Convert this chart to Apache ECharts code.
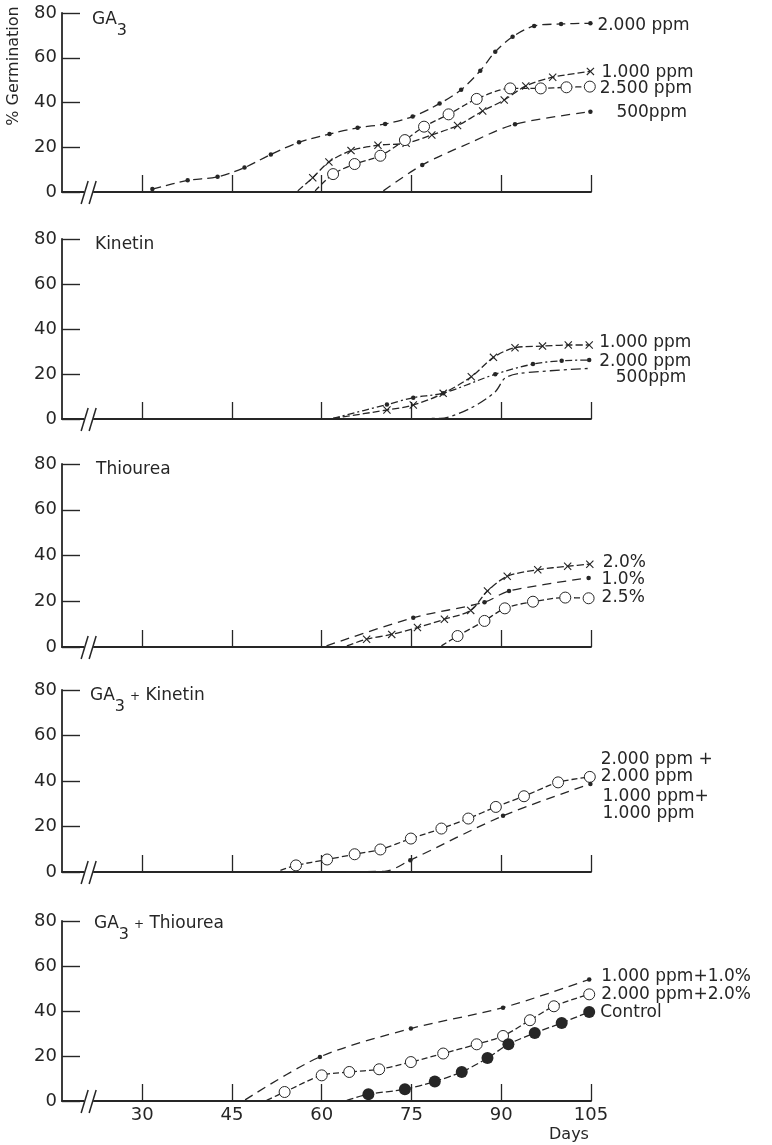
<!DOCTYPE html>
<html><head><meta charset="utf-8">
<script src="https://cdn.jsdelivr.net/npm/echarts@6/dist/echarts.min.js"></script>
<style>html,body{margin:0;padding:0;background:#fff}#c{width:772px;height:1145px}</style>
</head><body><div id="c"></div>
<script>
// ---- tick labels ----
const xTicks = [30, 45, 60, 75, 90, 105];
const yTicks = [0, 20, 40, 60, 80];
const panelTitles = ['GA3', 'Kinetin', 'Thiourea', 'GA3 + Kinetin', 'GA3 + Thiourea'];

// ---- data: [day, % germination] ----
// GA3
const ga3_2000 = [[31.7,1.3],[37.6,5.2],[42.6,6.8],[47.1,10.9],[51.5,16.8],[56.2,22.2],[61.3,25.9],[66.0,28.7],[70.6,30.4],[75.2,33.7],[79.7,39.5],[83.3,45.7],[86.5,54.2],[89.0,62.7],[91.9,69.4],[95.5,74.2],[100.0,75.1],[104.9,75.4]];
const ga3_1000 = [[56.0,0.5],[58.5,6.4],[61.2,13.4],[64.9,18.5],[69.4,20.9],[74.1,21.8],[78.4,25.5],[82.7,29.7],[86.9,36.2],[90.5,41.1],[94.1,47.4],[98.6,51.3],[104.9,53.9]];
const ga3_2500 = [[58.9,0.5],[61.9,8.0],[65.5,12.5],[69.8,16.2],[73.9,23.2],[77.1,29.2],[81.2,34.7],[85.9,41.6],[91.5,46.3],[96.6,46.3],[100.9,46.8],[104.8,47.1]];
const ga3_500 = [[70.3,0.5],[76.8,12.1],[84.8,22.0],[92.3,30.3],[104.9,35.9]];
// Kinetin
const kin_1000 = [[61.9,0.3],[70.9,4.0],[75.3,6.2],[80.3,11.4],[85.0,18.8],[88.7,27.4],[92.3,31.7],[96.9,32.4],[101.2,32.9],[104.7,32.9]];
const kin_2000 = [[61.9,0.3],[70.9,6.4],[75.3,9.5],[80.3,11.5],[89.0,19.9],[95.3,24.4],[100.1,25.9],[104.7,26.2]];
const kin_500 = [[62.0,0],[79.8,0.3],[84.8,4.7],[89.0,12.1],[90.6,18.1],[93.1,20.3],[104.8,22.5]];
// Thiourea
const th_20 = [[64.2,0.5],[67.5,3.4],[71.7,5.5],[76.0,8.5],[80.5,12.1],[84.9,16.0],[87.7,24.5],[91.0,30.9],[96.1,33.8],[101.1,35.3],[104.8,36.2]];
const th_10 = [[60.8,0.5],[75.3,12.8],[87.2,19.6],[91.3,24.5],[104.6,30.2]];
const th_25 = [[80.0,0.5],[82.7,4.8],[87.2,11.4],[90.6,16.9],[95.3,19.8],[100.7,21.6],[104.6,21.3]];
// GA3 + Kinetin
const gk_2000 = [[53.1,0.7],[55.7,2.9],[60.9,5.5],[65.5,7.8],[69.8,9.9],[74.9,14.7],[80.0,19.1],[84.5,23.5],[89.1,28.6],[93.8,33.3],[99.5,39.4],[104.8,41.8]];
const gk_1000 = [[55.0,0],[70.5,0.3],[74.8,5.2],[90.3,24.7],[104.9,38.7]];
// GA3 + Thiourea
const gt_1000 = [[47.2,0.5],[59.7,19.6],[74.9,32.2],[90.3,41.5],[104.7,54.0]];
const gt_2000 = [[50.8,0.3],[53.8,4.0],[60.0,11.4],[64.6,12.9],[69.6,14.1],[74.9,17.3],[80.3,21.1],[85.9,25.2],[90.3,28.9],[94.8,35.9],[98.8,42.1],[104.7,47.4]];
const control = [[64.2,0.3],[67.8,3.0],[73.9,5.2],[78.9,8.7],[83.4,12.9],[87.7,19.1],[91.2,25.2],[95.6,30.2],[100.1,34.7],[104.7,39.6]];

// ---- styling / layout ----
const FONT = 'DejaVu Sans';
const INK = '#262626';
const gridTops = [13, 239, 464, 690, 921];
const gridHeights = [179, 180, 183, 182, 180];
const XMIN = 16.6, XMAX = 105;

const XSYM = 'path://M1,0L5,4L9,0L10,1L6,5L10,9L9,10L5,6L1,10L0,9L4,5L0,1Z';
const sym = {
  dot: {symbol: 'circle', size: 4.5, fill: INK, bw: 0},
  cross: {symbol: XSYM, size: 8, fill: INK, bw: 0},
  open: {symbol: 'circle', size: 11, fill: '#fff', bw: 1},
  filled: {symbol: 'circle', size: 12, fill: INK, bw: 0},
  none: {symbol: 'none', size: 0, fill: INK, bw: 0}
};

// panel, data, label, marker, dash, bare (leading points without marker), label offset
const seriesDefs = [
  {p:0, d:ga3_2000, t:'2.000 ppm', m:'dot', dash:[9,5], bare:0, off:[7,2]},
  {p:0, d:ga3_1000, t:'1.000 ppm', m:'cross', dash:[7,3], bare:1, off:[11,1]},
  {p:0, d:ga3_2500, t:'2.500 ppm', m:'open', dash:[6,3], bare:1, off:[10,2]},
  {p:0, d:ga3_500, t:'500ppm', m:'dot', dash:[9,6], bare:1, off:[26,1], noMark:[2]},
  {p:1, d:kin_1000, t:'1.000 ppm', m:'cross', dash:[7,3], bare:1, off:[10,-2]},
  {p:1, d:kin_2000, t:'2.000 ppm', m:'dot', dash:[7,3,2,3], bare:1, off:[10,2]},
  {p:1, d:kin_500, t:'500ppm', m:'none', dash:[10,4,3,4], bare:0, off:[26,9]},
  {p:2, d:th_20, t:'2.0%', m:'cross', dash:[7,3], bare:1, off:[13,-2]},
  {p:2, d:th_10, t:'1.0%', m:'dot', dash:[9,6], bare:1, off:[13,2]},
  {p:2, d:th_25, t:'2.5%', m:'open', dash:[6,3], bare:1, off:[13,-1]},
  {p:3, d:gk_2000, t:'2.000 ppm +\n2.000 ppm', m:'open', dash:[6,3], bare:1, off:[11,-9]},
  {p:3, d:gk_1000, t:'1.000 ppm+\n1.000 ppm', m:'dot', dash:[9,6], bare:2, off:[12,21]},
  {p:4, d:gt_1000, t:'1.000 ppm+1.0%', m:'dot', dash:[9,6], bare:1, off:[12,-3]},
  {p:4, d:gt_2000, t:'2.000 ppm+2.0%', m:'open', dash:[6,3], bare:1, off:[12,0]},
  {p:4, d:control, t:'Control', m:'filled', dash:[7,3], bare:1, off:[11,1]}
];

const grids = gridTops.map((t, i) => ({left: 62, width: 529, top: t, height: gridHeights[i]}));
const xAxes = gridTops.map((t, i) => ({
  type: 'value', gridIndex: i, min: XMIN, max: XMAX,
  axisLine: {show: true, lineStyle: {color: INK, width: 1.8}},
  axisTick: {show: true, inside: true, length: 17, customValues: xTicks, lineStyle: {color: INK, width: 1.3}},
  axisLabel: {show: i === 4, customValues: xTicks, margin: 5, fontSize: 18, fontFamily: FONT, color: INK},
  splitLine: {show: false}
}));
const yAxes = gridTops.map((t, i) => ({
  type: 'value', gridIndex: i, min: 0, max: 80, interval: 20,
  axisLine: {show: true, lineStyle: {color: INK, width: 1.8}},
  axisTick: {show: true, inside: true, length: 18, lineStyle: {color: INK, width: 1.4}},
  axisLabel: {show: true, margin: 5, fontSize: 18, fontFamily: FONT, color: INK},
  splitLine: {show: false}
}));

const series = seriesDefs.map(s => {
  const mk = sym[s.m];
  const noMark = s.noMark || [];
  return {
    type: 'line', xAxisIndex: s.p, yAxisIndex: s.p, data: s.d,
    smooth: 0.3, animation: false, silent: true,
    symbol: mk.symbol,
    symbolSize: (v, prm) => (prm.dataIndex < s.bare || noMark.includes(prm.dataIndex)) ? 0 : mk.size,
    showSymbol: s.m !== 'none',
    itemStyle: {color: mk.fill, borderColor: INK, borderWidth: mk.bw},
    lineStyle: {color: INK, width: 1.3, type: s.dash},
    endLabel: {
      show: true, formatter: s.t, distance: 0, offset: s.off,
      fontSize: 17, fontFamily: FONT, color: INK, lineHeight: 17
    },
    z: 3
  };
});

const titleRich = {
  a: {fontSize: 17, fontFamily: FONT, fontWeight: 'normal', color: INK, lineHeight: 20, verticalAlign: 'top'},
  s: {fontSize: 16, fontFamily: FONT, fontWeight: 'normal', color: INK, lineHeight: 28, verticalAlign: 'bottom'},
  p: {fontSize: 12, fontFamily: FONT, fontWeight: 'normal', color: INK, lineHeight: 20, verticalAlign: 'top', padding: [4, 0, 0, 0]}
};
function richTitle(t) {
  return t.replace(/GA3/g, '{a|GA}{s|3}').replace(/ \+ /g, ' {p|+} ')
          .replace(/(^|\})([^{}]+)$/, (m, a, b) => a + '{a|' + b + '}');
}
const titleLefts = [92, 95, 96, 90, 94];
const titleTopsAdj = [11, 236, 461, 687, 915];
const titles = panelTitles.map((t, i) => ({
  text: richTitle(t), left: titleLefts[i], top: titleTopsAdj[i], padding: 0,
  textStyle: {fontWeight: 'normal', rich: titleRich}
}));
titles.push({text: 'Days', left: 549, top: 1127, padding: 0,
  textStyle: {fontSize: 16, fontFamily: FONT, color: INK, fontWeight: 'normal'}});

const chart = echarts.init(document.getElementById('c'), null, {renderer: 'canvas'});
chart.setOption({
  backgroundColor: '#fff', animation: false,
  title: titles, grid: grids, xAxis: xAxes, yAxis: yAxes, series: series
});

// axis break marks and y-axis name
const gfx = [];
for (let i = 0; i < 5; i++) {
  const [bx, by] = chart.convertToPixel({gridIndex: i}, [20.3, 0]);
  gfx.push({type: 'rect', shape: {x: bx, y: by - 2, width: 9, height: 4}, style: {fill: '#fff'}, z: 10});
  gfx.push({type: 'line', shape: {x1: bx - 3, y1: by + 12, x2: bx + 4, y2: by - 11}, style: {stroke: INK, lineWidth: 1.5}, z: 11});
  gfx.push({type: 'line', shape: {x1: bx + 5, y1: by + 12, x2: bx + 12, y2: by - 11}, style: {stroke: INK, lineWidth: 1.5}, z: 11});
}
gfx.push({type: 'text', x: 14, y: 66, rotation: Math.PI / 2,
  style: {text: '% Germination', fontSize: 16, fontFamily: FONT, fill: INK, textAlign: 'center', textVerticalAlign: 'middle'}, z: 11});
chart.setOption({graphic: gfx});
</script>
</body></html>
